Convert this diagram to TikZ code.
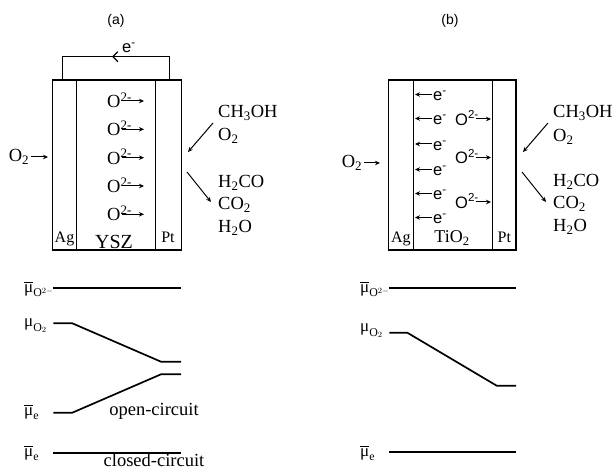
\documentclass[tikz,border=0pt]{standalone}
\usepackage{amsmath}
\usepackage{fontspec}
\setmainfont{Liberation Serif}
\setsansfont{Liberation Sans}
\usetikzlibrary{arrows.meta}
\tikzset{
  lbl/.style={inner sep=0pt, font=\fontsize{18.5}{20}\selectfont},
  lblsm/.style={inner sep=0pt, font=\fontsize{16}{18}\selectfont},
  lblsf/.style={inner sep=0pt, font=\sffamily\fontsize{16.5}{18}\selectfont},
  ttl/.style={inner sep=0pt, font=\sffamily\fontsize{14}{16}\selectfont},
  mul/.style={inner sep=0pt, anchor=west, font=\fontsize{17}{19}\selectfont},
  arr/.style={-{Stealth[length=5pt,width=4.5pt]}, line width=1pt},
  cell/.style={line width=1.5pt},
  lev/.style={line width=1.7pt},
}
\begin{document}
\begin{tikzpicture}[x=1pt,y=-1pt]
\useasboundingbox (0,0) rectangle (615,470);

% ---------------- (a) ----------------
\node[ttl] (ta) at (116,21) {(a)};
\draw[cell] (52.3,80) rectangle (181.7,250);
\draw[cell] (76.7,80) -- (76.7,250);
\draw[cell] (155.7,80) -- (155.7,250);
% external wire
\draw[cell] (62.3,80) -- (62.3,56.7) -- (169.3,56.7) -- (169.3,80);
\draw[line width=1.2pt, -{Straight Barb[length=5pt,width=10pt]}] (122,56.7) -- (112,56.7);
\node[lblsf] (ea) at (129,48) {e\textsuperscript{-}};
% O2- rows
\foreach \yy [count=\i] in {100,128.3,156.7,185,213.3}{
  \node[lbl, anchor=west] (oa\i) at (107,\yy) {O\textsuperscript{2-}};
  \coordinate (oas\i) at (121.5,\yy+1);
  \coordinate (oae\i) at (144,\yy+1);
  \draw[arr] (oas\i) -- (oae\i);
}
% O2 inlet
\node[lbl] (o2a) at (19,157) {O\textsubscript{2}};
\coordinate (o2ae) at (48,157);
\draw[arr] (o2a.east) ++(2,0) -- (o2ae);
% reactants / products
\node[lbl, anchor=west] (cha) at (218,113) {CH\textsubscript{3}OH};
\node[lbl, anchor=west] (o2ra) at (218,136) {O\textsubscript{2}};
\coordinate (r1s) at (213,123); \coordinate (r1e) at (188,152);
\draw[arr] (r1s) -- (r1e);
\coordinate (p1s) at (187,172); \coordinate (p1e) at (211,202);
\draw[arr] (p1s) -- (p1e);
\node[lbl, anchor=west] (h2coa) at (218,183) {H\textsubscript{2}CO};
\node[lbl, anchor=west] (co2a) at (218,205) {CO\textsubscript{2}};
\node[lbl, anchor=west] (h2oa) at (218,228) {H\textsubscript{2}O};
% layer labels
\node[lblsm, anchor=base] (aga) at (64.5,243) {Ag};
\node[inner sep=0pt, anchor=base, font=\fontsize{20}{22}\selectfont] (ysz) at (114,248) {YSZ};
\node[lblsm, anchor=base] (pta) at (168,243) {Pt};

% ---------------- (b) ----------------
\node[ttl] (tb) at (450,21) {(b)};
\draw[cell] (388.3,80) rectangle (516,250);
\draw[cell] (413.3,80) -- (413.3,250);
\draw[cell] (492.7,80) -- (492.7,250);
\foreach \yy [count=\i] in {94.5,118.5,144,169.5,193.5,217.5}{
  \node[lblsf, anchor=west] (eb\i) at (433,\yy+1.5) {e\textsuperscript{-}};
  \coordinate (ebs\i) at (431.5,\yy);
  \coordinate (ebe\i) at (415,\yy);
  \draw[arr] (ebs\i) -- (ebe\i);
}
\foreach \yy [count=\i] in {118,156.5,201}{
  \node[lblsf, anchor=west] (ob\i) at (455,\yy) {O\textsuperscript{2-}};
  \coordinate (obs\i) at (475.5,\yy+1);
  \coordinate (obe\i) at (491,\yy+1);
  \draw[arr] (obs\i) -- (obe\i);
}
\node[lbl] (o2b) at (352,163) {O\textsubscript{2}};
\coordinate (o2be) at (380,163);
\draw[arr] (o2b.east) ++(2,0) -- (o2be);
\node[lbl, anchor=west] (chb) at (553,113) {CH\textsubscript{3}OH};
\node[lbl, anchor=west] (o2rb) at (553,137) {O\textsubscript{2}};
\coordinate (r2s) at (548,123); \coordinate (r2e) at (523,152);
\draw[arr] (r2s) -- (r2e);
\coordinate (p2s) at (522,172); \coordinate (p2e) at (546,202);
\draw[arr] (p2s) -- (p2e);
\node[lbl, anchor=west] (h2cob) at (553,182) {H\textsubscript{2}CO};
\node[lbl, anchor=west] (co2b) at (553,204) {CO\textsubscript{2}};
\node[lbl, anchor=west] (h2ob) at (553,227) {H\textsubscript{2}O};
\node[lblsm, anchor=base] (agb) at (400.8,243) {Ag};
\node[inner sep=0pt, anchor=base, font=\fontsize{18}{20}\selectfont] (tio) at (452,243) {TiO\textsubscript{2}};
\node[lblsm, anchor=base] (ptb) at (504.3,243) {Pt};

% ---------------- level diagrams (a) ----------------
\draw[lev] (53.3,288.3) -- (181,288.3);
\draw[lev] (53.3,323.3) -- (72.3,323.3) -- (161,361.7) -- (181,361.7);
\draw[lev] (53.3,412.7) -- (72.3,412.7) -- (161,374.3) -- (181,374.3);
\draw[lev] (53.3,452.7) -- (181,452.7);
\node[mul] (m1a) at (24,289) {$\overline{\text{μ}}_{\mathrm{O}^{2-}}$};
\node[mul] (m2a) at (24,326) {$\text{μ}_{\mathrm{O}_2}$};
\node[mul] (m3a) at (24,412) {$\overline{\text{μ}}_{\mathrm{e}}$};
\node[mul] (m4a) at (24,453) {$\overline{\text{μ}}_{\mathrm{e}}$};
\node[lbl] (oc) at (154,411) {open-circuit};
\node[lbl, anchor=base] (cc) at (154,466.5) {closed-circuit};

% ---------------- level diagrams (b) ----------------
\draw[lev] (389.3,288.3) -- (516,288.3);
\draw[lev] (389.3,332.7) -- (407.3,332.7) -- (496.7,385.7) -- (516,385.7);
\draw[lev] (389.3,452.3) -- (516,452.3);
\node[mul] (m1b) at (360,289) {$\overline{\text{μ}}_{\mathrm{O}^{2-}}$};
\node[mul] (m2b) at (360,331) {$\text{μ}_{\mathrm{O}_2}$};
\node[mul] (m3b) at (360,453) {$\overline{\text{μ}}_{\mathrm{e}}$};
\end{tikzpicture}
\end{document}
